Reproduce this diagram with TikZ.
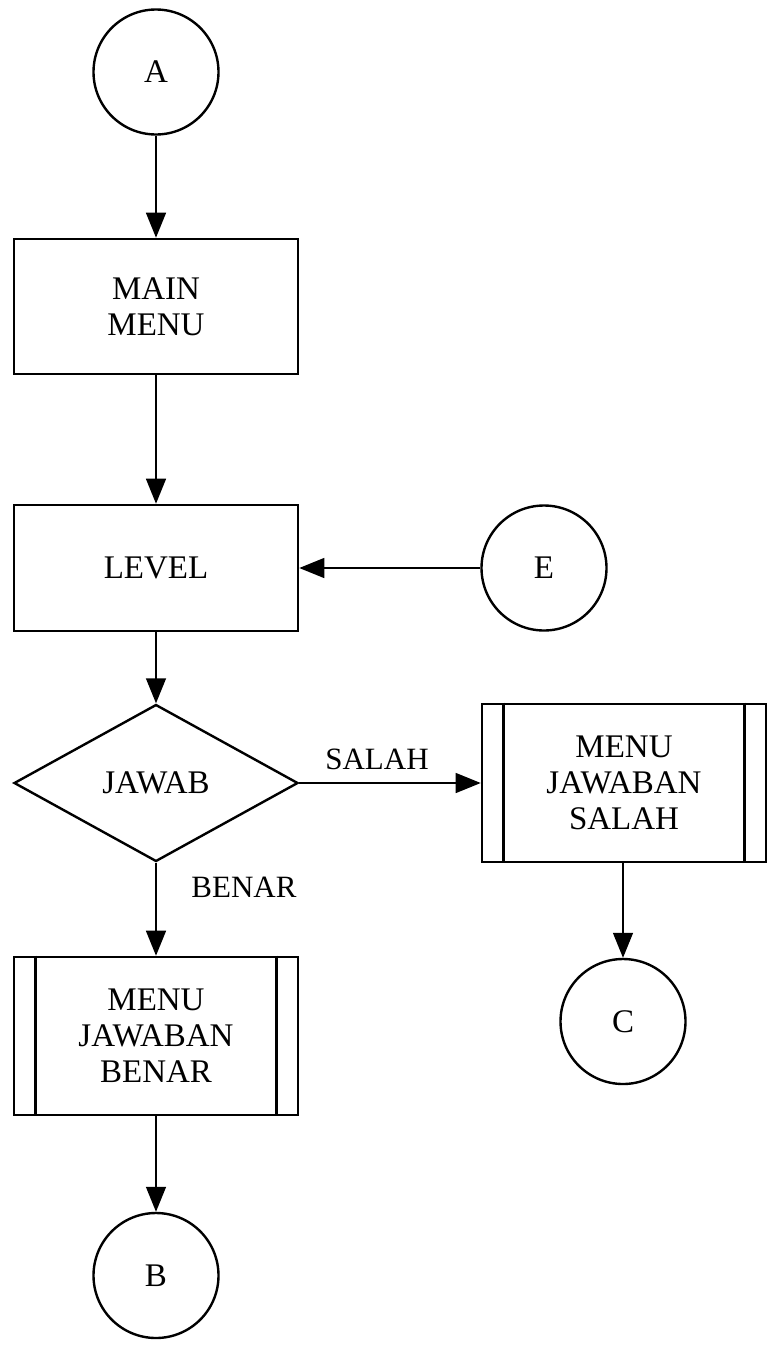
\documentclass[tikz,border=0pt]{standalone}
\usepackage{fontspec}
\setmainfont{Liberation Serif}
\usetikzlibrary{shapes.geometric,arrows.meta}
\begin{document}
\begin{tikzpicture}[x=1pt,y=-1pt,
  every node/.style={font=\fontsize{33}{36}\selectfont, align=center, inner sep=0pt},
  conn/.style={draw, circle, line width=2.4pt, minimum size=125pt},
  box/.style={draw, rectangle, line width=2.6pt, minimum width=284pt},
  dec/.style={draw, diamond, line width=2.4pt, minimum width=284pt, minimum height=157pt, aspect=1.8},
  arr/.style={line width=1.4pt, -{Triangle[width=20pt,length=25pt]}},
  lbl/.style={font=\fontsize{31}{34}\selectfont}]
\useasboundingbox (0,0) rectangle (775,1349);
\node[conn] (A) at (156,72) {A};
\node[box, minimum height=135pt] (main) at (156,306.5) {MAIN\\MENU};
\node[box, minimum height=126pt] (level) at (156,568) {LEVEL};
\node[conn] (E) at (544,568) {E};
\node[dec] (jawab) at (156,783) {JAWAB};
\node[box, minimum height=158pt] (salah) at (624,783) {MENU\\JAWABAN\\SALAH};
\node[box, minimum height=158pt] (benar) at (156,1036) {MENU\\JAWABAN\\BENAR};
\node[conn] (C) at (623,1021.5) {C};
\node[conn] (B) at (156,1275.5) {B};
\draw[line width=2.6pt] ([xshift=23pt]salah.north west) -- ([xshift=23pt]salah.south west);
\draw[line width=2.6pt] ([xshift=-23pt]salah.north east) -- ([xshift=-23pt]salah.south east);
\draw[line width=2.6pt] ([xshift=23pt]benar.north west) -- ([xshift=23pt]benar.south west);
\draw[line width=2.6pt] ([xshift=-23pt]benar.north east) -- ([xshift=-23pt]benar.south east);
\draw[arr] (A) -- (main);
\draw[arr] (main) -- (level);
\draw[arr] (E) -- (level);
\draw[arr] (level) -- (jawab);
\draw[arr] (jawab.east) -- (salah.west);
\draw[arr] (jawab.south) -- (benar.north);
\draw[arr] (salah.south -| C) -- (C);
\draw[arr] (benar) -- (B);
\node[lbl] (lsalah) at (377,759) {SALAH};
\node[lbl] (lbenar) at (244,887) {BENAR};
\end{tikzpicture}
\end{document}
